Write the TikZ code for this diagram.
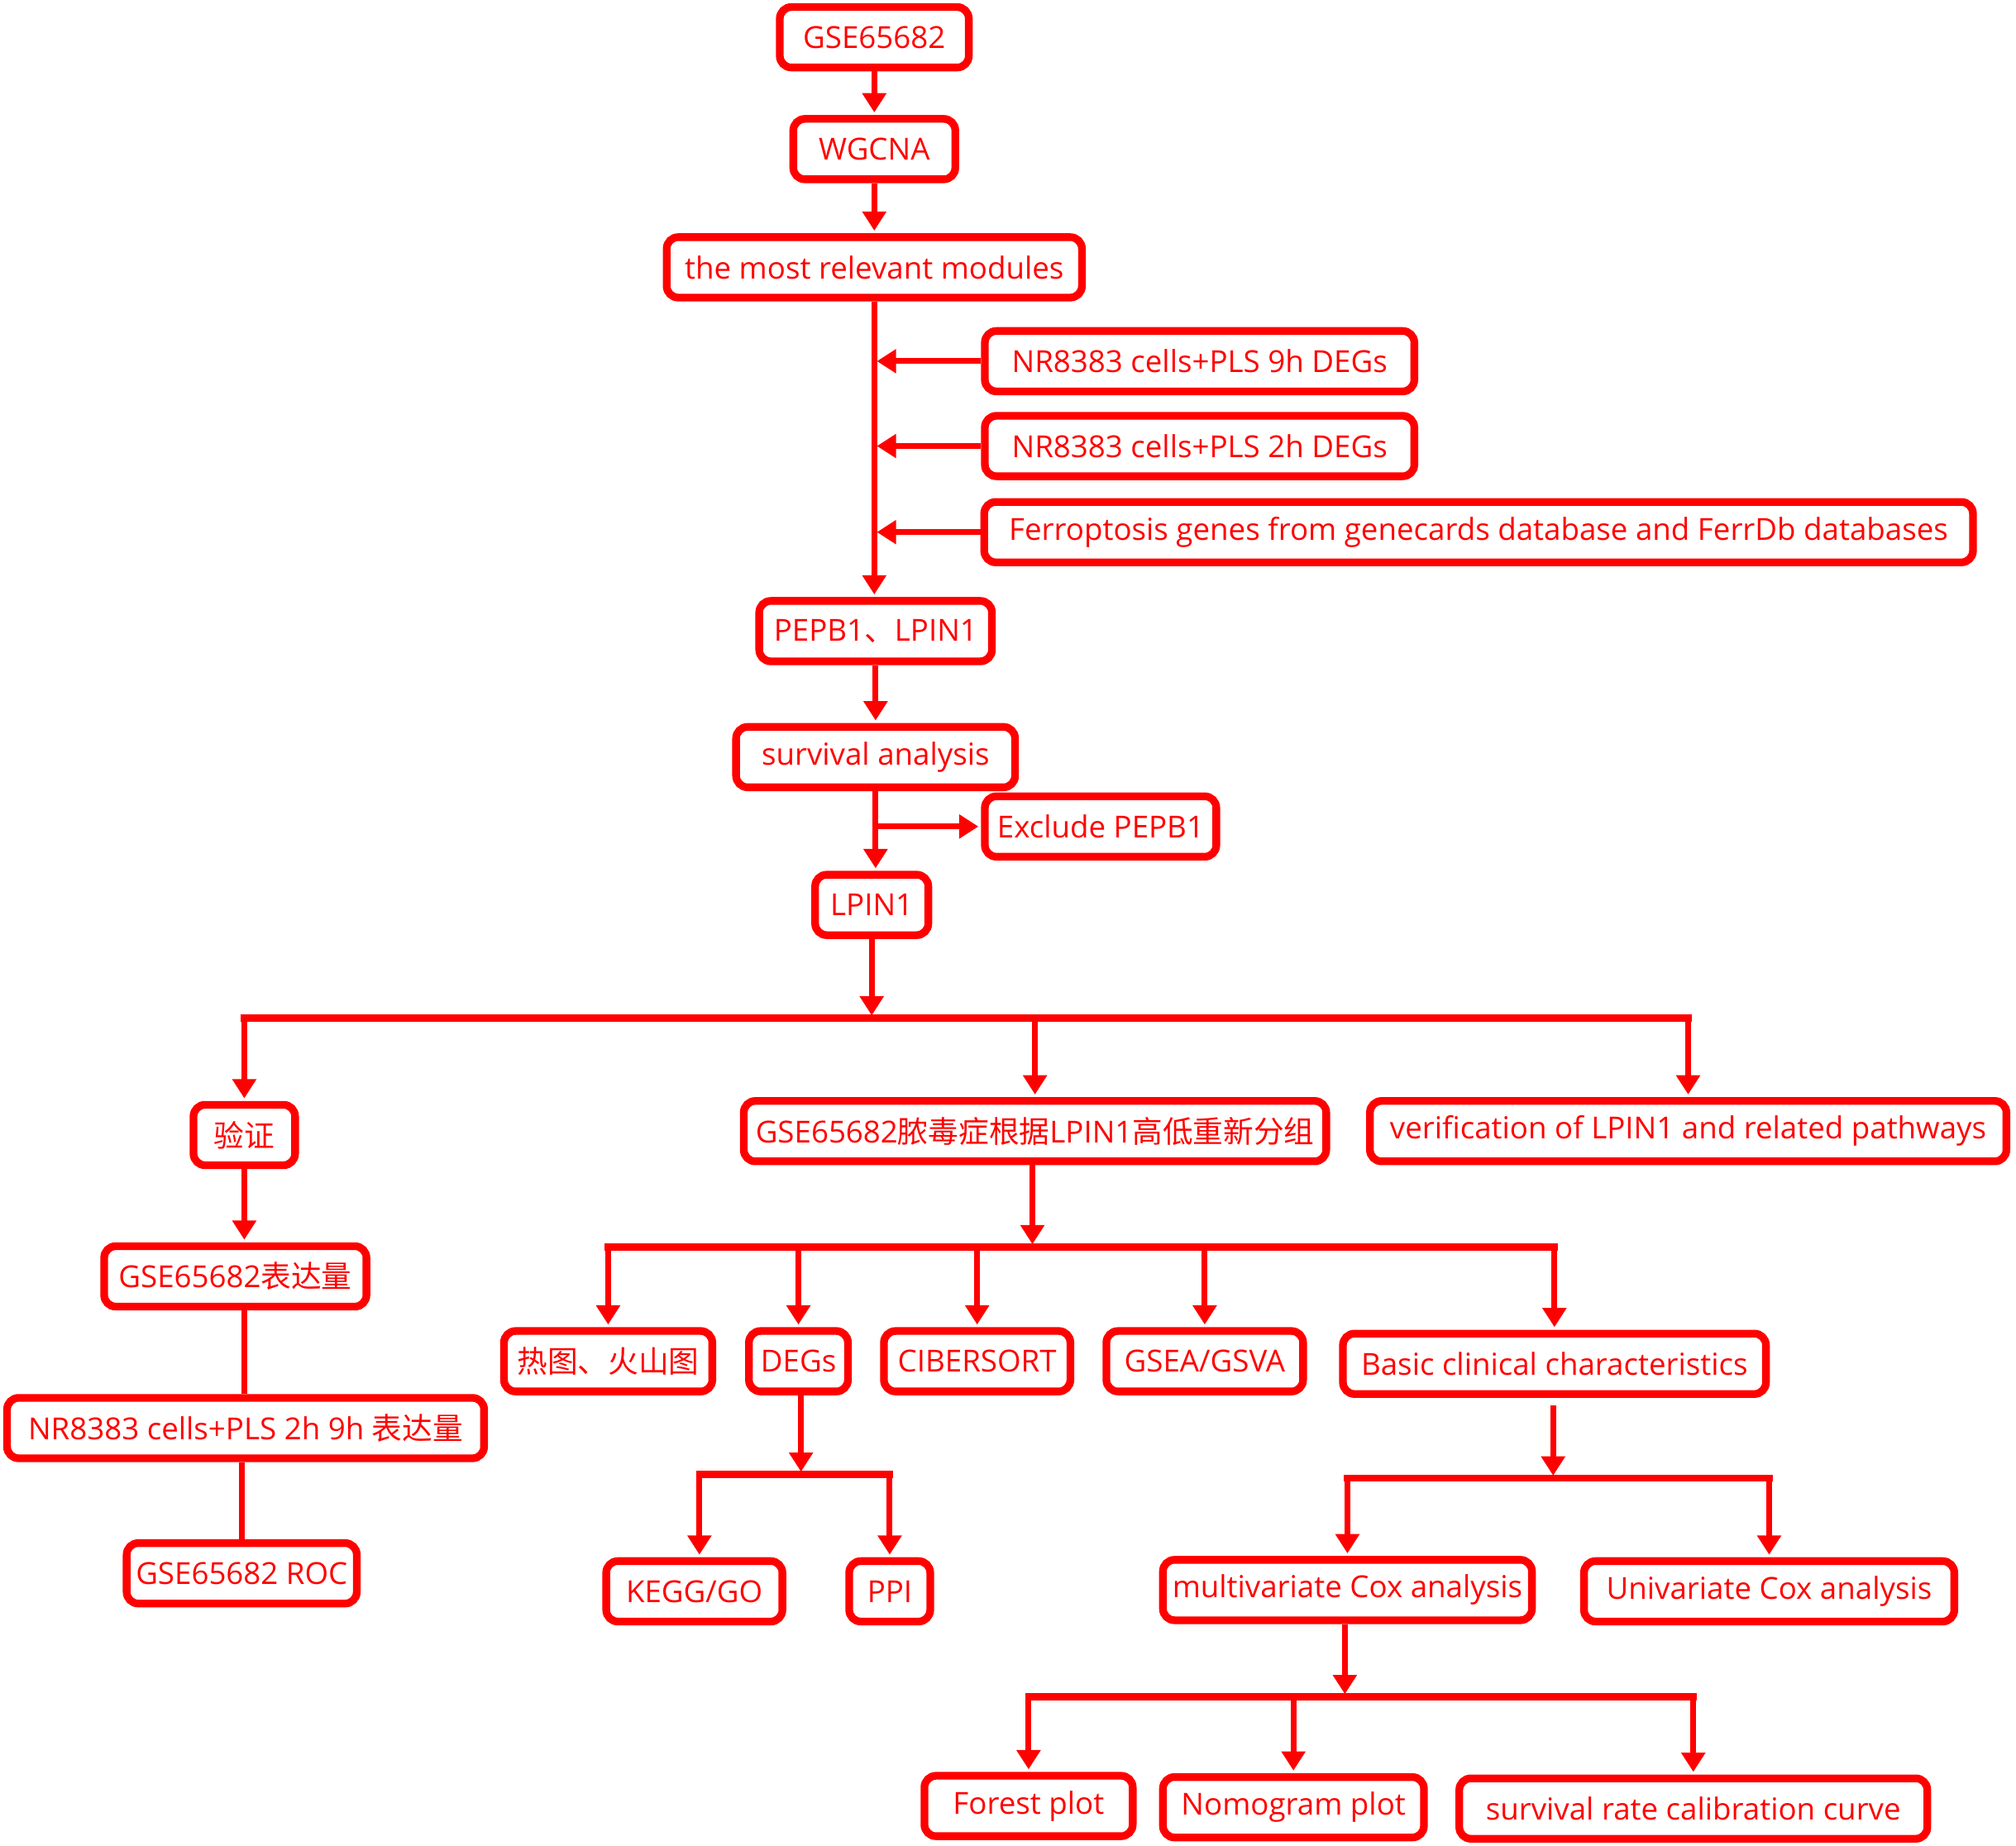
\documentclass[tikz,border=0pt]{standalone}
\usepackage{fontspec}
\setmainfont{Open Sans}
\newfontfamily\cjk{Noto Sans CJK SC}
\usetikzlibrary{arrows.meta, positioning}

\begin{document}
\begin{tikzpicture}[x=1pt, y=-1pt,
    box/.style={draw=mainred, line width=6pt, rounded corners=9pt, text=mainred,
        font=\fontsize{23.6}{28}\selectfont, minimum height=47pt, inner sep=0pt},
    arr/.style={draw=mainred, line width=4.5pt, shorten >=2pt,
        -{Triangle[length=15pt,width=18pt]}},
    link/.style={draw=mainred, line width=4.5pt},
    bus/.style={draw=mainred, line width=5.5pt, line cap=rect}]
            % Цвета
            \definecolor{mainred}{RGB}{255,0,0}

            \useasboundingbox (0,0) rectangle (1568,1436);

            % Блоки
            \node[box, minimum width=147pt] (gse) at (680,29) {GSE65682};
            \node[box, minimum width=126pt] (wgcna) at (680,116) {WGCNA};
            \node[box, minimum width=323pt] (mod) at (680,208) {the most relevant modules};
            \node[box, minimum width=334pt] (deg9) at (933,281) {NR8383 cells+PLS 9h DEGs};
            \node[box, minimum width=334pt] (deg2) at (933,347) {NR8383 cells+PLS 2h DEGs};
            \node[box, minimum width=769pt] (ferr) at (1150,414) {Ferroptosis genes from genecards database and FerrDb databases};
            \node[box, minimum width=181pt] (pepb) at (681,491) {PEPB1{\cjk 、}LPIN1};
            \node[box, minimum width=217pt] (surv) at (681,589) {survival analysis};
            \node[box, minimum width=180pt] (excl) at (856,643) {Exclude PEPB1};
            \node[box, minimum width=88pt] (lpin) at (678,704) {LPIN1};

            \node[box, minimum width=79pt] (yz) at (190,883) {\cjk 验证};
            \node[box, minimum width=453pt] (regr) at (805,880) {GSE65682{\cjk 脓毒症根据}LPIN1{\cjk 高低重新分组}};
            \node[box, minimum width=495pt] (verif) at (1313,880) {verification of LPIN1 and related pathways};

            \node[box, minimum width=204pt] (expr) at (183,993) {GSE65682{\cjk 表达量}};
            \node[box, minimum width=371pt] (cellexpr) at (191,1111) {NR8383 cells+PLS 2h 9h {\cjk 表达量}};
            \node[box, minimum width=179pt] (roc) at (188,1224) {GSE65682 ROC};

            \node[box, minimum width=162pt] (heat) at (473,1059) {\cjk 热图、火山图};
            \node[box, minimum width=77pt] (degs) at (621,1059) {DEGs};
            \node[box, minimum width=145pt] (cib) at (760,1059) {CIBERSORT};
            \node[box, minimum width=153pt] (gsea) at (937,1059) {GSEA/GSVA};
            \node[box, minimum width=329pt] (basic) at (1209,1061) {Basic clinical characteristics};

            \node[box, minimum width=137pt] (kegg) at (540,1238) {KEGG/GO};
            \node[box, minimum width=63pt] (ppi) at (692,1238) {PPI};
            \node[box, minimum width=287pt] (multi) at (1048,1237) {multivariate Cox analysis};
            \node[box, minimum width=288pt] (uni) at (1376,1238) {Univariate Cox analysis};

            \node[box, minimum width=162pt] (forest) at (800,1405) {Forest plot};
            \node[box, minimum width=203pt] (nomo) at (1006,1406) {Nomogram plot};
            \node[box, minimum width=364pt] (calib) at (1317,1407) {survival rate calibration curve};

            % Узлы шин
            \coordinate (b1) at (678,792);
            \coordinate (b2) at (803,970);
            \coordinate (b3) at (623,1147);
            \coordinate (b4) at (1208,1150);
            \coordinate (b5) at (1046,1320);

            % Стрелки
            \draw[arr] (gse) -- (wgcna);
            \draw[arr] (wgcna) -- (mod);
            \draw[arr] (mod.south) -- (mod.south |- pepb.north);
            \foreach \n in {deg9, deg2, ferr}
                \draw[arr] (\n.west) -- (\n.west -| mod.south);
            \draw[arr] (pepb) -- (surv);
            \draw[arr] (surv.south) -- (surv.south |- lpin.north);
            \draw[arr] (surv.south |- excl.west) -- (excl.west);
            \draw[arr] (lpin.south) -- (lpin.south |- b1);

            \draw[bus] (yz.north |- b1) -- (verif.north |- b1);
            \foreach \n in {yz, regr, verif}
                \draw[arr] (\n.north |- b1) -- (\n.north);

            \draw[arr] (yz.south) -- (yz.south |- expr.north);
            \draw[link] (yz.south |- expr.south) -- (yz.south |- cellexpr.north);
            \draw[link] (roc.north |- cellexpr.south) -- (roc.north);

            \draw[arr] (regr.south -| b2) -- (b2);
            \draw[bus] (heat.north |- b2) -- (basic.north |- b2);
            \foreach \n in {heat, degs, cib, gsea, basic}
                \draw[arr] (\n.north |- b2) -- (\n.north);

            \draw[arr] (degs.south -| b3) -- (b3);
            \draw[bus] ([xshift=4pt]kegg.north |- b3) -- (ppi.north |- b3);
            \draw[arr] ([xshift=4pt]kegg.north |- b3) -- ([xshift=4pt]kegg.north);
            \draw[arr] (ppi.north |- b3) -- (ppi.north);

            \draw[arr] ([yshift=-6pt]basic.south -| b4) -- (b4);
            \draw[bus] (multi.north |- b4) -- (uni.north |- b4);
            \foreach \n in {multi, uni}
                \draw[arr] (\n.north |- b4) -- (\n.north);

            \draw[arr] (multi.south -| b5) -- (b5);
            \draw[bus] (forest.north |- b5) -- (calib.north |- b5);
            \foreach \n in {forest, nomo, calib}
                \draw[arr] (\n.north |- b5) -- (\n.north);

        \end{tikzpicture}
\end{document}
